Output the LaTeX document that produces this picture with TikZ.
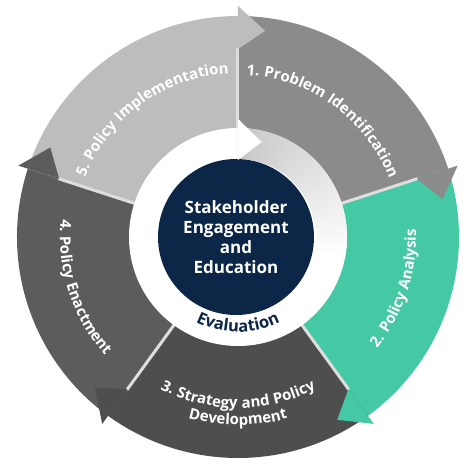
\documentclass[tikz,border=0pt]{standalone}
\usepackage{fontspec}
\setmainfont{Open Sans}
\usetikzlibrary{decorations.text, calc}

\definecolor{segone}{HTML}{8B8B8B}
\definecolor{segtwo}{HTML}{45C8A4}
\definecolor{segthree}{HTML}{4E4E4E}
\definecolor{segfour}{HTML}{5C5C5C}
\definecolor{segfive}{HTML}{BDBDBD}
\definecolor{sepgray}{HTML}{DEDEDE}
\definecolor{navy}{HTML}{0C2647}

\begin{document}
\begin{tikzpicture}[x=1pt, y=1pt]
        \tikzset{
            septick/.style={draw=sepgray, line width=3pt},
            core/.style={circle, fill=navy, minimum size=156pt, inner sep=0pt, text=white, align=center, font=\bfseries\fontsize{17}{20}\selectfont},
            ringtext/.style={decorate, decoration={text along path, text align=center, text color=white, text={|\bfseries\fontsize{15}{18}\selectfont\addfontfeature{LetterSpace=4}|#1}}},
            evaltext/.style={decorate, decoration={text along path, text align=center, text color=navy, text={|\bfseries\fontsize{16.5}{18}\selectfont\addfontfeature{LetterSpace=4}|#1}}}
        }
        \useasboundingbox (-238,-237) rectangle (236,237);

        % --- OUTER RING ---
        \foreach \i/\col in {0/segone, 1/segtwo, 2/segthree, 3/segfour, 4/segfive} {
            \pgfmathsetmacro{\a}{90-72*\i}
            \pgfmathsetmacro{\b}{\a-72}
            \fill[\col] (\a:108) arc[start angle=\a, end angle=\b, radius=108] -- (\b:221) arc[start angle=\b, end angle=\a, radius=221] -- cycle;
        }
        \foreach \i in {0,...,4}
            \draw[septick] ({90-72*\i}:108) -- ({90-72*\i}:189);
        \foreach \i/\col in {0/segone, 1/segtwo, 2/segthree, 3/segfour, 4/segfive} {
            \pgfmathsetmacro{\b}{18-72*\i}
            \fill[\col] (\b:231) -- ({\b-7.5}:208) -- (\b:188) -- cycle;
        }

        % --- INNER RING ---
        \fill[white] (0,0) circle[radius=109];
        \foreach \t in {0,...,49} {
            \pgfmathsetmacro{\p}{22*(1-\t/50)}
            \pgfmathsetmacro{\a}{90-2*\t}
            \pgfmathsetmacro{\b}{\a-2.4}
            \fill[black!\p] (\a:78) arc[start angle=\a, end angle=\b, radius=78] -- (\b:109) arc[start angle=\b, end angle=\a, radius=109] -- cycle;
        }
        \node[core] (core) at (-2,0) {Stakeholder\\Engagement\\and\\Education};
        \fill[white] (90:118) -- (76:98) -- (90:77) -- cycle;

        % --- LABELS ---
        \path[ringtext={1. Problem Identification}] (104:162) arc[start angle=104, end angle=4, radius=162];
        \path[ringtext={2. Policy Analysis}] (-68:178) arc[start angle=-68, end angle=32, radius=178];
        \path[ringtext={3. Strategy and Policy}] (-140:171) arc[start angle=-140, end angle=-40, radius=171];
        \path[ringtext={Development}] (-130:188) arc[start angle=-130, end angle=-50, radius=188];
        \path[ringtext={4. Policy Enactment}] (148:178) arc[start angle=148, end angle=248, radius=178];
        \path[ringtext={5. Policy Implementation}] (176:164) arc[start angle=176, end angle=76, radius=164];
        \path[evaltext={Evaluation}] (-130:95) arc[start angle=-130, end angle=-50, radius=95];

    \end{tikzpicture}
\end{document}
